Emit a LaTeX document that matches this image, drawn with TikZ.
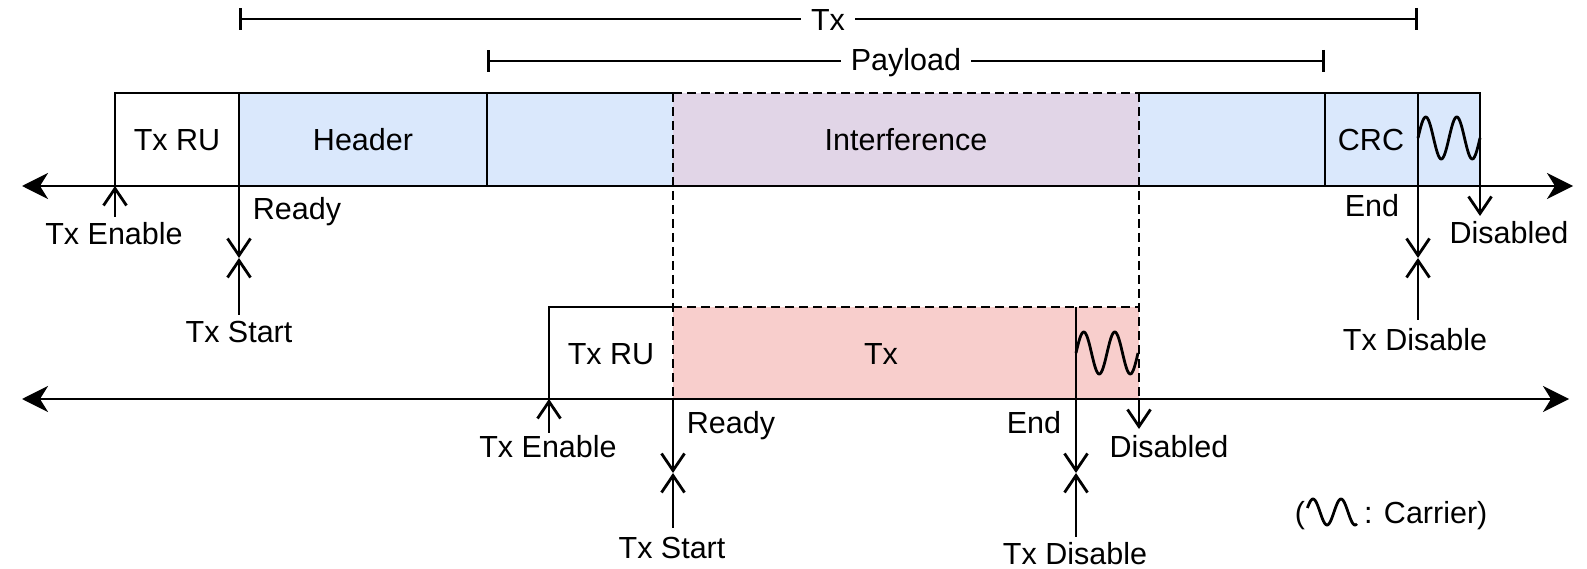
\documentclass[tikz,border=0pt]{standalone}
\usepackage{fontspec}
\setmainfont{Liberation Sans}
\usetikzlibrary{arrows.meta}
\definecolor{hdrblue}{HTML}{DAE8FC}
\definecolor{txpink}{HTML}{F8CECC}
\definecolor{intpurple}{HTML}{E1D5E7}
\begin{document}
\begin{tikzpicture}[x=1pt,y=-1pt,
  lbl/.style={inner sep=0pt, text height=22pt, text depth=0pt, font=\fontsize{30.5}{36}\selectfont},
  ln/.style={line width=2.8pt},
  axisline/.style={line width=2.8pt, {Stealth[length=26pt,width=26pt,inset=8pt]}-{Stealth[length=26pt,width=26pt,inset=8pt]}},
  evt/.style={line width=2.8pt, -{Straight Barb[length=17pt,width=23pt]}},
  dsh/.style={line width=2.8pt, dash pattern=on 9pt off 5pt},
  dimline/.style={line width=2.8pt, {Bar[width=22pt]}-{Bar[width=22pt]}},
  wave/.style={line width=2.8pt, smooth}
]
\useasboundingbox (0,0) rectangle (1587,569);

% ---------- upper row fills ----------
\fill[hdrblue] (239,93) rectangle (1480,186);
\fill[intpurple] (673,93) rectangle (1139,186);
% ---------- lower row fills ----------
\fill[txpink] (673,307) rectangle (1139,399);

% ---------- dashed outlines and guides ----------
\draw[dsh] (673,93) -- (1139,93);
\draw[dsh] (673,93) -- (673,399);
\draw[dsh] (1139,93) -- (1139,399);
\draw[dsh] (673,307) -- (1139,307);

% ---------- upper row solid outline ----------
\draw[ln] (115,186) -- (115,93) -- (673,93);
\draw[ln] (1139,93) -- (1480,93) -- (1480,186);
\draw[ln] (239,93) -- (239,186);
\draw[ln] (487,93) -- (487,186);
\draw[ln] (1325,93) -- (1325,186);
\draw[ln] (1418,93) -- (1418,186);
% ---------- lower row solid outline ----------
\draw[ln] (549,399) -- (549,307) -- (673,307);
\draw[ln] (1076,307) -- (1076,399);

% ---------- carrier waves ----------
\draw[wave, domain=0:62, samples=90] plot ({1418+\x},{138-21*sin(11.6129*\x)});
\draw[wave, domain=0:62, samples=90] plot ({1076+\x},{353-21*sin(11.6129*\x)});

% ---------- axes ----------
\coordinate (uL) at (22,186);
\coordinate (uR) at (1573,186);
\coordinate (lL) at (22,399);
\coordinate (lR) at (1569,399);
\draw[axisline] (uL) -- (uR);
\draw[axisline] (lL) -- (lR);

% ---------- labels in boxes ----------
\node[lbl] (ruU) at (177,140) {Tx RU};
\node[lbl] (hdr) at (363,140) {Header};
\node[lbl] (intf) at (906,140) {Interference};
\node[lbl] (crc) at (1371,140) {CRC};
\node[lbl] (ruL) at (611,353) {Tx RU};
\node[lbl] (txL) at (881,353) {Tx};

% ---------- event labels ----------
\node[lbl] (enU) at (114,234) {Tx Enable};
\node[lbl] (rdyU) at (297,209) {Ready};
\node[lbl] (stU) at (239,331) {Tx Start};
\node[lbl] (endU) at (1372,206) {End};
\node[lbl] (disU) at (1509,233) {Disabled};
\node[lbl] (tdU) at (1415,339) {Tx Disable};

\node[lbl] (enL) at (548,446) {Tx Enable};
\node[lbl] (rdyL) at (731,422) {Ready};
\node[lbl] (stL) at (672,547) {Tx Start};
\node[lbl] (endL) at (1034,422) {End};
\node[lbl] (disL) at (1169,446) {Disabled};
\node[lbl] (tdL) at (1075,553) {Tx Disable};

% ---------- event points ----------
\coordinate (enUpt) at (115,186);
\coordinate (rdyUpt) at (239,186);
\coordinate (xU) at (239,258);
\coordinate (endUpt) at (1418,186);
\coordinate (xE) at (1418,258);
\coordinate (disUpt) at (1480,186);
\coordinate (disUend) at (1480,216);

\coordinate (enLpt) at (549,399);
\coordinate (rdyLpt) at (673,399);
\coordinate (xL) at (673,473);
\coordinate (endLpt) at (1076,399);
\coordinate (xEL) at (1076,473);
\coordinate (disLpt) at (1139,399);
\coordinate (disLend) at (1139,429);

% ---------- event arrows ----------
\draw[evt] ([yshift=6pt]enU.north -| enUpt) -- (enUpt);
\draw[evt] (rdyUpt) -- (xU);
\draw[evt] ([yshift=5pt]stU.north -| xU) -- (xU);
\draw[evt] (endUpt) -- (xE);
\draw[evt] ([yshift=8pt]tdU.north -| xE) -- (xE);
\draw[evt] (disUpt) -- (disUend);

\draw[evt] ([yshift=2pt]enL.north -| enLpt) -- (enLpt);
\draw[evt] (rdyLpt) -- (xL);
\draw[evt] ([yshift=8pt]stL.north -| xL) -- (xL);
\draw[evt] (endLpt) -- (xEL);
\draw[evt] ([yshift=5pt]tdL.north -| xEL) -- (xEL);
\draw[evt] (disLpt) -- (disLend);

% ---------- dimension lines ----------
\coordinate (txA) at (239,19);
\coordinate (txB) at (1418,19);
\coordinate (plA) at (487,61);
\coordinate (plB) at (1325,61);
\draw[dimline] (txA) -- (txB);
\draw[dimline] (plA) -- (plB);
\node[lbl, fill=white, inner xsep=10pt] (txDim) at (828,20) {Tx};
\node[lbl, fill=white, inner xsep=10pt] (plDim) at (906,60) {Payload};

% ---------- legend ----------
\node[lbl] (lgA) at (1300,512) {(};
\draw[wave, domain=0.05:1.82, samples=60] plot ({1306+28*\x},{512-13*sin(360*\x)});
\node[lbl, anchor=west] (lgB) at (1364,512) {: Carrier)};
\end{tikzpicture}
\end{document}
